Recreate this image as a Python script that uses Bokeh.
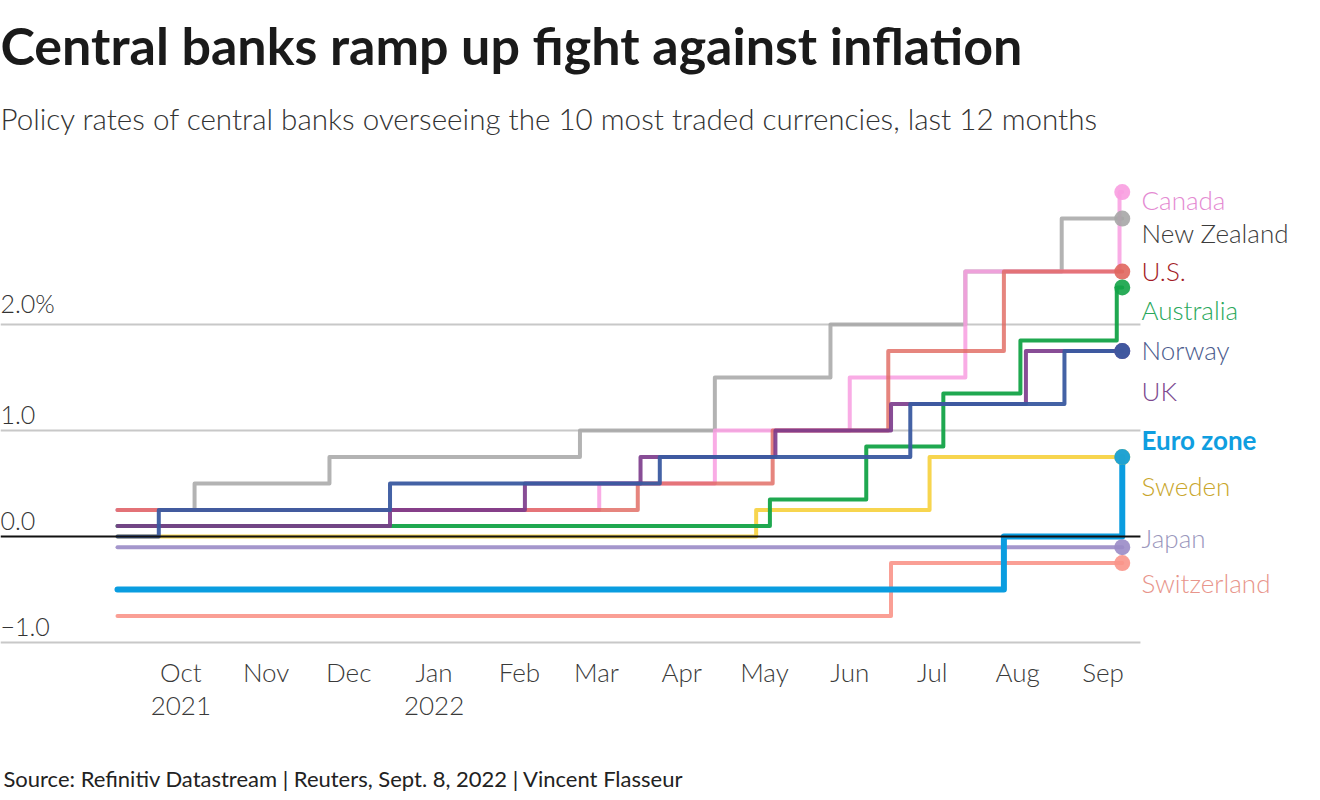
import datetime as dt
from bokeh.plotting import figure
from bokeh.models import FixedTicker, Label, LabelSet, ColumnDataSource, Range1d, LinearAxis
from bokeh.embed import file_html
from bokeh.resources import INLINE
from bokeh.core.properties import value

# ---------------- data ----------------
START = "2021-09-08"
END = "2022-09-08"

japan_dates = ["2021-09-08", "2022-09-08"]
japan_rates = [-0.1, -0.1]

switzerland_dates = ["2021-09-08", "2022-06-16", "2022-09-08"]
switzerland_rates = [-0.75, -0.25, -0.25]

sweden_dates = ["2021-09-08", "2022-04-28", "2022-06-30", "2022-09-08"]
sweden_rates = [0.0, 0.25, 0.75, 0.75]

nz_dates = ["2021-09-08", "2021-10-06", "2021-11-24", "2022-02-23", "2022-04-13",
            "2022-05-25", "2022-07-13", "2022-08-17", "2022-09-08"]
nz_rates = [0.25, 0.5, 0.75, 1.0, 1.5, 2.0, 2.5, 3.0, 3.0]

canada_dates = ["2021-09-08", "2022-03-02", "2022-04-13", "2022-06-01", "2022-07-13",
                "2022-09-07", "2022-09-08"]
canada_rates = [0.25, 0.5, 1.0, 1.5, 2.5, 3.25, 3.25]

us_dates = ["2021-09-08", "2022-03-16", "2022-05-04", "2022-06-15", "2022-07-27", "2022-09-08"]
us_rates = [0.25, 0.5, 1.0, 1.75, 2.5, 2.5]

australia_dates = ["2021-09-08", "2022-05-03", "2022-06-07", "2022-07-05", "2022-08-02",
                   "2022-09-06", "2022-09-08"]
australia_rates = [0.1, 0.35, 0.85, 1.35, 1.85, 2.35, 2.35]

uk_dates = ["2021-09-08", "2021-12-16", "2022-02-03", "2022-03-17", "2022-05-05",
            "2022-06-16", "2022-08-04", "2022-09-08"]
uk_rates = [0.1, 0.25, 0.5, 0.75, 1.0, 1.25, 1.75, 1.75]

norway_dates = ["2021-09-08", "2021-09-23", "2021-12-16", "2022-03-24", "2022-06-23",
                "2022-08-18", "2022-09-08"]
norway_rates = [0.0, 0.25, 0.5, 0.75, 1.25, 1.75, 1.75]

euro_dates = ["2021-09-08", "2022-07-27", "2022-09-08"]
euro_rates = [-0.5, 0.0, 0.75]

tick_dates = ["2021-10-01", "2021-11-01", "2021-12-01", "2022-01-01", "2022-02-01",
              "2022-03-01", "2022-04-01", "2022-05-01", "2022-06-01", "2022-07-01",
              "2022-08-01", "2022-09-01"]
tick_labels = ["Oct\n2021", "Nov", "Dec", "Jan\n2022", "Feb", "Mar", "Apr", "May",
               "Jun", "Jul", "Aug", "Sep"]

y_ticks = [-1.0, 0.0, 1.0, 2.0]
y_tick_labels = ["\u22121.0", "0.0", "1.0", "2.0%"]

countries = ["Canada", "New Zealand", "U.S.", "Australia", "Norway", "UK",
             "Euro zone", "Sweden", "Japan", "Switzerland"]

TITLE = "Central banks ramp up fight against inflation"
SUBTITLE = "Policy rates of central banks overseeing the 10 most traded currencies, last 12 months"
SOURCE = "Source: Refinitiv Datastream | Reuters, Sept. 8, 2022 | Vincent Flasseur"

# ---------------- styling ----------------
FONT = "Lato"
LIGHT = "Lato Light, Lato"
line_colors = {
    "Japan": "#9a8bc6", "Switzerland": "#f9958a", "Sweden": "#f6d03c",
    "New Zealand": "#a6a6a6", "Canada": "#f89de0", "U.S.": "#e0665e",
    "Australia": "#13a347", "UK": "#7b3a8b", "Norway": "#3a5aa0", "Euro zone": "#0a9de0",
}
label_colors = {
    "Canada": "#e48ad2", "New Zealand": "#3c3c3c", "U.S.": "#a31b26",
    "Australia": "#2aa85c", "Norway": "#4b5b8d", "UK": "#7d4a8f",
    "Euro zone": "#0f9ee0", "Sweden": "#c9a62b", "Japan": "#9b97bd",
    "Switzerland": "#e8958b",
}
# label positions in screen px, measured from the plot frame's bottom-left corner
label_x = 1141
label_y = [453, 420, 382, 343, 303, 262, 213, 167, 115, 70]

START_D = dt.date.fromisoformat(START)


def day(s):
    return (dt.date.fromisoformat(s) - START_D).days


W, H = 1304, 800
X0, X1 = -42.5, 431.2          # visible day range across the frame
GRID_END = 371.6               # grid lines stop here (day units)
SRC_TICK = 80                  # centre of the source line (day units)
p = figure(width=W, height=H, output_backend="svg", toolbar_location=None,
           x_range=Range1d(X0, X1), y_range=Range1d(-1.094, 5.057),
           y_axis_location=None, min_border_left=0, min_border_right=0,
           min_border_top=0, min_border_bottom=148)
p.outline_line_color = None
p.background_fill_color = "white"
p.border_fill_color = "white"
p.xgrid.visible = False
p.ygrid.visible = False

grid_vals = [v for v in y_ticks if v != 0.0]
p.segment(x0=[X0] * len(grid_vals), x1=[GRID_END] * len(grid_vals), y0=grid_vals, y1=grid_vals,
          line_color="#c8c8c8", line_width=2)

ax = p.xaxis[0]
ax.ticker = FixedTicker(ticks=[day(d) for d in tick_dates])
ax.major_label_overrides = {day(d): lab for d, lab in zip(tick_dates, tick_labels)}
ax.axis_line_color = None
ax.major_tick_line_color = None
ax.minor_tick_line_color = None
ax.major_tick_out = 0
ax.major_tick_in = 0
ax.major_label_text_font = LIGHT
ax.major_label_text_font_size = "26px"
ax.major_label_text_color = "#3a3a3a"
ax.major_label_text_line_height = 1.05
ax.major_label_standoff = 3

# source line, carried by a second (line-less) axis under the month axis
src_ax = LinearAxis(ticker=FixedTicker(ticks=[SRC_TICK]),
                    major_label_overrides={SRC_TICK: SOURCE})
src_ax.axis_line_color = None
src_ax.major_tick_line_color = None
src_ax.minor_tick_line_color = None
src_ax.major_tick_out = 0
src_ax.major_tick_in = 0
src_ax.major_label_text_font = FONT
src_ax.major_label_text_font_size = "22px"
src_ax.major_label_text_color = "#222222"
src_ax.major_label_standoff = 40
p.add_layout(src_ax, "below")

series = [
    ("Japan", japan_dates, japan_rates, 4, 0.9),
    ("Switzerland", switzerland_dates, switzerland_rates, 4, 0.9),
    ("Sweden", sweden_dates, sweden_rates, 4, 0.9),
    ("New Zealand", nz_dates, nz_rates, 4, 0.85),
    ("Canada", canada_dates, canada_rates, 4, 0.85),
    ("U.S.", us_dates, us_rates, 4, 0.8),
    ("Australia", australia_dates, australia_rates, 4, 0.95),
    ("UK", uk_dates, uk_rates, 4, 0.9),
    ("Norway", norway_dates, norway_rates, 4, 0.95),
    ("Euro zone", euro_dates, euro_rates, 6, 1.0),
]

for name, dates, rates, lw, a in series:
    xs = [day(d) for d in dates]
    p.step(xs, rates, mode="after", line_color=line_colors[name], line_width=lw,
           line_alpha=a, line_join="round", line_cap="round")

p.segment(x0=[X0], x1=[GRID_END], y0=[0.0], y1=[0.0], line_color="#111111", line_width=2)

for name, dates, rates, lw, a in series:
    p.scatter([day(dates[-1])], [rates[-1]], size=16, fill_color=line_colors[name],
              line_color=None, fill_alpha=0.9)

# y tick labels above grid lines
ysrc = ColumnDataSource(dict(x=[0] * len(y_ticks), y=y_ticks, t=y_tick_labels))
p.add_layout(LabelSet(x="x", y="y", text="t", source=ysrc, x_units="screen",
                      y_offset=7, text_baseline="bottom", text_align="left",
                      text_font=value(LIGHT), text_font_size="25px",
                      text_color="#333333"))

# country labels
csrc = ColumnDataSource(dict(x=[label_x] * len(countries), y=label_y, t=countries,
                             c=[label_colors[c] for c in countries],
                             s=["bold" if c == "Euro zone" else "normal" for c in countries],
                             f=[FONT if c == "Euro zone" else LIGHT for c in countries]))
p.add_layout(LabelSet(x="x", y="y", text="t", source=csrc, x_units="screen",
                      y_units="screen", text_baseline="middle", text_align="left",
                      text_font="f", text_font_size="26px", text_color="c",
                      text_font_style="s"))

p.add_layout(Label(x=0, y=608, x_units="screen", y_units="screen", text=TITLE,
                   text_font=FONT, text_font_size="52px", text_font_style="bold",
                   text_color="#1a1a1a", text_baseline="middle"))
p.add_layout(Label(x=0, y=534, x_units="screen", y_units="screen", text=SUBTITLE,
                   text_font=LIGHT, text_font_size="29.6px",
                   text_color="#333333", text_baseline="middle"))

open("out.html", "w").write(file_html(p, INLINE))
